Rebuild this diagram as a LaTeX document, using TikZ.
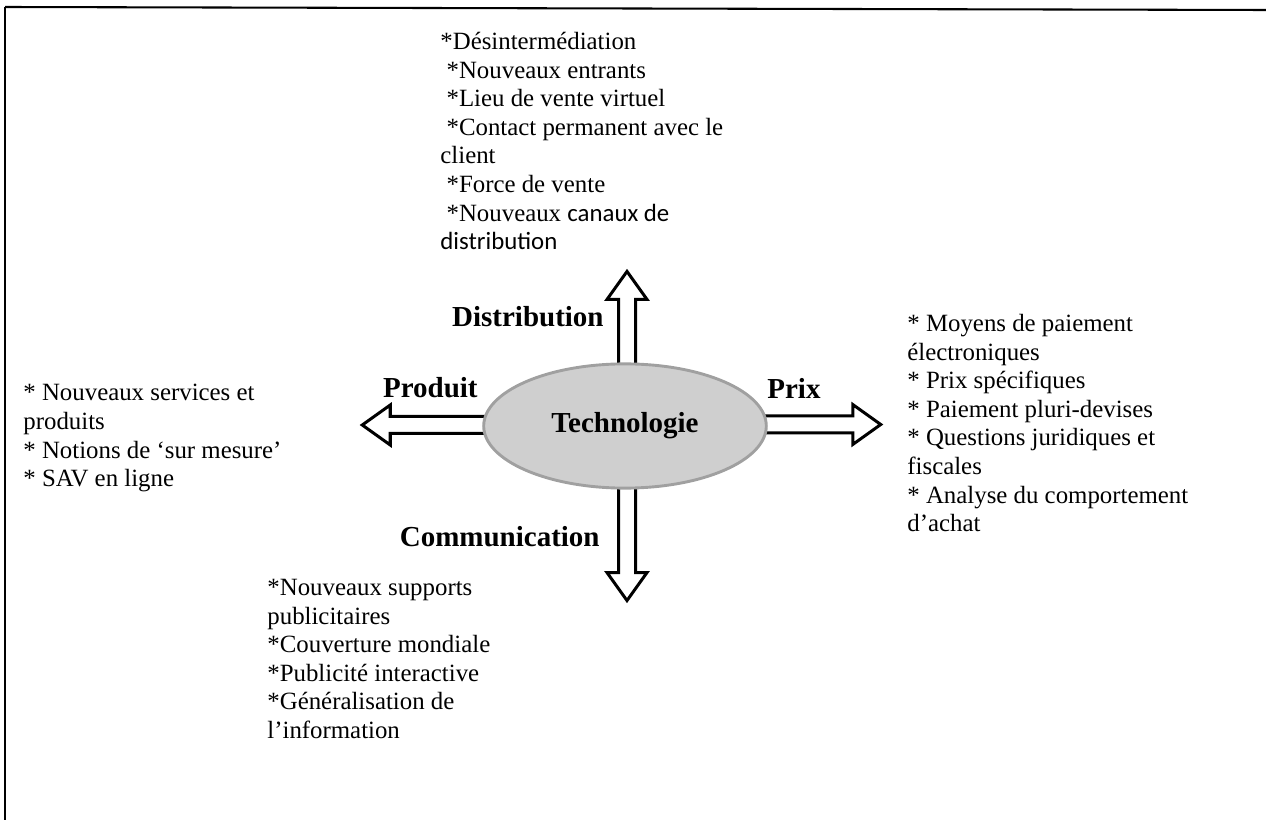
\documentclass[tikz,border=0pt]{standalone}
\usepackage{fontspec}
\setmainfont{Liberation Serif}
\newfontfamily\calibri{Carlito}
\usetikzlibrary{shapes.geometric,backgrounds}
\definecolor{techfill}{RGB}{207,207,207}
\definecolor{techline}{RGB}{160,160,160}
\tikzset{
  bullets/.style={font=\fontsize{12}{13.8}\selectfont, align=left, anchor=north west},
  dirname/.style={font=\fontsize{14}{16}\selectfont\bfseries},
  barrow/.style={draw, fill=white, line width=1.45pt, line join=miter},
  pics/fatarrow/.style={code={
    \draw[barrow] (0,-8.5) -- (#1,-8.5) -- (#1,-20) -- ++(28,20) -- (#1,20) -- (#1,8.5) -- (0,8.5) -- cycle;
  }},
}
\begin{document}
\begin{tikzpicture}[x=0.483pt, y=-0.483pt]
\useasboundingbox (0,0) rectangle (1266,820);
\draw[line width=1pt] (5,7) -- (1266,10);
\draw[line width=0.5pt] (5,7) -- (5,820);

\begin{scope}[every node/.style={inner sep=0pt}]
    \node [ellipse, draw=techline, fill=techfill, line width=1.4pt,
           minimum width=136.5pt, minimum height=60pt, dirname] (tech) at (625,426) {Technologie};

    \begin{scope}[on background layer]
    \pic [rotate=90] at ([shift={(2,12)}]tech.north) {fatarrow=75};
    \pic [rotate=-90] at ([shift={(2,-12)}]tech.south) {fatarrow=95};
    \pic at ([shift={(-10,-1.5)}]tech.east) {fatarrow=95};
    \pic [rotate=180] at ([shift={(10,-1)}]tech.west) {fatarrow=102};
    \end{scope}

    \node [dirname, anchor=east] (distlabel) at (604,317) {Distribution};
    \node [dirname, anchor=east] (prodlabel) at (478,388) {Produit};
    \node [dirname, anchor=west] (prixlabel) at (767,388) {Prix};
    \node [dirname, anchor=east] (comlabel) at (600,537) {Communication};

    \node [bullets] (distlist) at (440,32) {*Désintermédiation\\
      \hspace*{3pt}*Nouveaux entrants\\
      \hspace*{3pt}*Lieu de vente virtuel\\
      \hspace*{3pt}*Contact permanent avec le\\
      client\\
      \hspace*{3pt}*Force de vente\\
      \hspace*{3pt}*Nouveaux {\calibri canaux de}\\
      {\calibri distribution}};
    \node [bullets] (prodlist) at (23,384) {* Nouveaux services et\\
      produits\\
      * Notions de ‘sur mesure’\\
      * SAV en ligne};
    \node [bullets] (prixlist) at (907,314) {* Moyens de paiement\\
      électroniques\\
      * Prix spécifiques\\
      * Paiement pluri-devises\\
      * Questions juridiques et\\
      fiscales\\
      * Analyse du comportement\\
      d’achat};
    \node [bullets] (comlist) at (267,579) {*Nouveaux supports\\
      publicitaires\\
      *Couverture mondiale\\
      *Publicité interactive\\
      *Généralisation de\\
      l’information};
\end{scope}

\end{tikzpicture}
\end{document}
